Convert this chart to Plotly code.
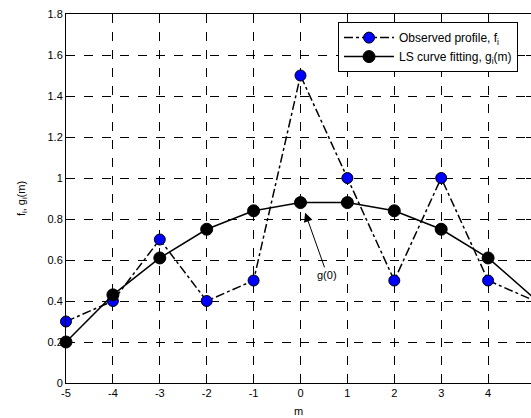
import plotly.graph_objects as go

m = [-5, -4, -3, -2, -1, 0, 1, 2, 3, 4, 5]
f_obs = [0.3, 0.4, 0.7, 0.4, 0.5, 1.5, 1.0, 0.5, 1.0, 0.5, 0.4]
g_fit = [0.2, 0.43, 0.61, 0.75, 0.84, 0.88, 0.88, 0.84, 0.75, 0.61, 0.41]
xticks = [-5, -4, -3, -2, -1, 0, 1, 2, 3, 4, 5]
yticks = [0, 0.2, 0.4, 0.6, 0.8, 1, 1.2, 1.4, 1.6, 1.8]
ytick_text = ["0", "0.2", "0.4", "0.6", "0.8", "1", "1.2", "1.4", "1.6", "1.8"]

fig = go.Figure()
fig.add_trace(go.Scatter(
    x=m, y=f_obs, mode="lines+markers", name="Observed profile, f<sub>i</sub>",
    line=dict(color="black", width=1.5, dash="dashdot"),
    marker=dict(color="#0000ff", size=11, line=dict(color="black", width=1)),
    cliponaxis=False,
))
fig.add_trace(go.Scatter(
    x=m, y=g_fit, mode="lines+markers", name="LS curve fitting, g<sub>i</sub>(m)",
    line=dict(color="black", width=1.5),
    marker=dict(color="black", size=12, line=dict(color="black", width=1)),
    cliponaxis=False,
))

font = dict(family="Liberation Sans, Arial, sans-serif", size=11, color="black")
axis_common = dict(
    showline=True, linecolor="black", linewidth=1, mirror="ticks",
    ticks="inside", ticklen=5, tickcolor="black",
    showgrid=True, gridcolor="black", gridwidth=1, griddash="dash",
    zeroline=False, tickfont=font, automargin=False,
)
fig.update_xaxes(range=[-5, 4.915], tickvals=xticks, ticktext=[str(v) for v in xticks],
                 title=dict(text="m", font=font, standoff=9), **axis_common)
fig.update_yaxes(range=[0, 1.8], tickvals=yticks, ticktext=ytick_text,
                 title=dict(text="f<sub>i</sub>, g<sub>i</sub>(m)", font=font, standoff=19),
                 **axis_common)

fig.add_annotation(x=0.1, y=0.83, xref="x", yref="y", ax=22, ay=62,
                   text="g(0)", showarrow=True, arrowhead=2, arrowsize=1.8,
                   arrowwidth=1, arrowcolor="black", font=font)

fig.update_layout(
    width=531, height=418,
    margin=dict(l=66, r=0, t=14, b=35),
    paper_bgcolor="white", plot_bgcolor="white",
    font=font,
    showlegend=True,
    legend=dict(x=0.585, y=0.978, xanchor="left", yanchor="top",
                bgcolor="white", bordercolor="black", borderwidth=1,
                font=dict(family="Liberation Sans, Arial, sans-serif", size=12, color="black"),
                itemwidth=50, tracegroupgap=4),
)

fig.write_html("out.html")
